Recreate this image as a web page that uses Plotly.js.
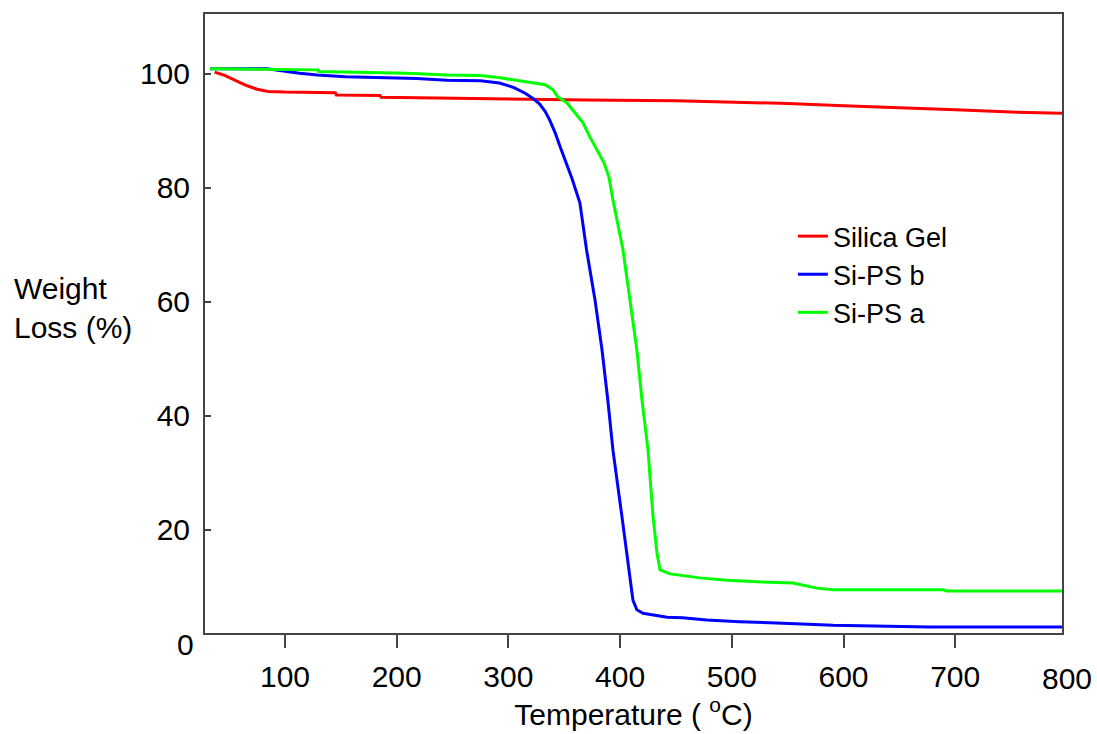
<!DOCTYPE html>
<html>
<head>
<meta charset="utf-8">
<script src="https://cdn.plot.ly/plotly-3.0.1.min.js"></script>
<style>html,body{margin:0;padding:0;background:#fff;}#chart{width:1097px;height:734px;}</style>
</head>
<body>
<div id="chart"></div>
<script>
// Silica Gel (red)
const silicaT = [37, 45, 55, 65, 75, 85, 100, 145, 146, 185, 186, 245, 370, 450, 500, 550, 600, 650, 700, 750, 795.6];
const silicaW = [100.3, 99.8, 98.9, 98.0, 97.3, 96.9, 96.8, 96.7, 96.3, 96.2, 95.9, 95.7, 95.4, 95.3, 95.1, 94.8, 94.4, 94.1, 93.7, 93.3, 93.1];

// Si-PS b (blue)
const psbT = [33, 84, 113, 129, 154, 218, 245, 275, 292, 305, 315, 322, 328, 333, 337, 342, 346, 351, 357, 364, 370, 377.5, 383.8, 389, 393.6, 401.7, 411.5, 415, 420.5, 442, 456, 477.5, 507, 540, 590.6, 677, 795.6];
const psbW = [100.9, 100.9, 100.1, 99.8, 99.5, 99.2, 98.9, 98.8, 98.4, 97.6, 96.6, 95.7, 94.7, 93.4, 91.9, 89.6, 87.4, 84.8, 81.6, 77.4, 69.1, 60.4, 51.6, 42.8, 34.0, 22.3, 7.7, 6.0, 5.4, 4.7, 4.6, 4.2, 3.9, 3.7, 3.3, 3.0, 3.0];

// Si-PS a (green)
const psaT = [33, 129.5, 130, 209, 245, 275, 292.5, 319, 333, 340, 344, 352.5, 359.6, 366.8, 373, 379, 385.6, 390, 393.6, 402.6, 408.9, 415, 419.6, 425, 429.5, 433, 435.7, 444.7, 471.5, 495.7, 522.5, 555, 576, 590.6, 689, 692.6, 795.6];
const psaW = [100.9, 100.7, 100.4, 100.1, 99.8, 99.7, 99.3, 98.6, 98.1, 97.2, 96.0, 94.9, 93.2, 91.4, 88.9, 86.7, 84.4, 81.9, 77.9, 69.1, 60.4, 51.6, 42.8, 34.0, 22.3, 16.0, 13.0, 12.3, 11.6, 11.2, 10.9, 10.7, 9.8, 9.5, 9.5, 9.3, 9.3];

const xTicks = [100, 200, 300, 400, 500, 600, 700];
const yTicks = [20, 40, 60, 80, 100];
const seriesNames = ['Silica Gel', 'Si-PS b', 'Si-PS a'];

const X_RANGE = [28.4, 795.6];
const Y_RANGE = [1.93, 110.5];

const FONT = 'Liberation Sans, Arial, sans-serif';

const traces = [
  {x: silicaT, y: silicaW, name: seriesNames[0], mode: 'lines', line: {color: '#ff0000', width: 3}},
  {x: psbT, y: psbW, name: seriesNames[1], mode: 'lines', line: {color: '#0000ff', width: 3}},
  {x: psaT, y: psaW, name: seriesNames[2], mode: 'lines', line: {color: '#00ff00', width: 3}}
];

// end labels "0" and "800" sit just past the axis ends, as in the original
const x800 = (800 - X_RANGE[0]) / (X_RANGE[1] - X_RANGE[0]);
const y0 = (0 - Y_RANGE[0]) / (Y_RANGE[1] - Y_RANGE[0]);

const layout = {
  width: 1097, height: 734,
  margin: {l: 205, r: 35, t: 14, b: 101},
  paper_bgcolor: '#ffffff', plot_bgcolor: '#ffffff',
  font: {family: FONT, size: 30, color: '#000'},
  showlegend: true,
  legend: {x: 0.686, y: 0.68, xanchor: 'left', yanchor: 'top', bgcolor: 'rgba(0,0,0,0)',
           font: {family: FONT, size: 27, color: '#000'}, tracegroupgap: 0},
  xaxis: {
    range: X_RANGE, tickvals: xTicks, ticktext: xTicks.map(String),
    ticks: 'outside', ticklen: 13, tickwidth: 2, tickcolor: '#444',
    showline: true, linecolor: '#444', linewidth: 2, mirror: true,
    showgrid: false, zeroline: false, ticklabelstandoff: 3,
    tickfont: {family: FONT, size: 30, color: '#000'},
    title: {text: 'Temperature ( <sup>o</sup>C)', font: {family: FONT, size: 30, color: '#000'}, standoff: 6}
  },
  yaxis: {
    range: Y_RANGE, tickvals: yTicks, ticktext: yTicks.map(String),
    ticks: 'inside', ticklen: 6, tickwidth: 2, tickcolor: '#444',
    showline: true, linecolor: '#444', linewidth: 2, mirror: true,
    showgrid: false, zeroline: false, ticklabelstandoff: 7,
    tickfont: {family: FONT, size: 30, color: '#000'}
  },
  annotations: [
    {text: 'Weight<br>Loss (%)', xref: 'paper', yref: 'paper', x: -0.225, y: 0.525,
     xanchor: 'left', yanchor: 'middle', align: 'left', showarrow: false,
     font: {family: FONT, size: 30, color: '#000'}},
    {text: '0', xref: 'paper', yref: 'paper', x: 0, y: y0, xanchor: 'right', yanchor: 'middle',
     xshift: -9, showarrow: false, font: {family: FONT, size: 30, color: '#000'}},
    {text: '800', xref: 'paper', yref: 'paper', x: x800, y: 0, xanchor: 'center', yanchor: 'top',
     yshift: -27, showarrow: false, font: {family: FONT, size: 30, color: '#000'}}
  ]
};

Plotly.newPlot('chart', traces, layout, {displayModeBar: false, staticPlot: true});
</script>
</body>
</html>
